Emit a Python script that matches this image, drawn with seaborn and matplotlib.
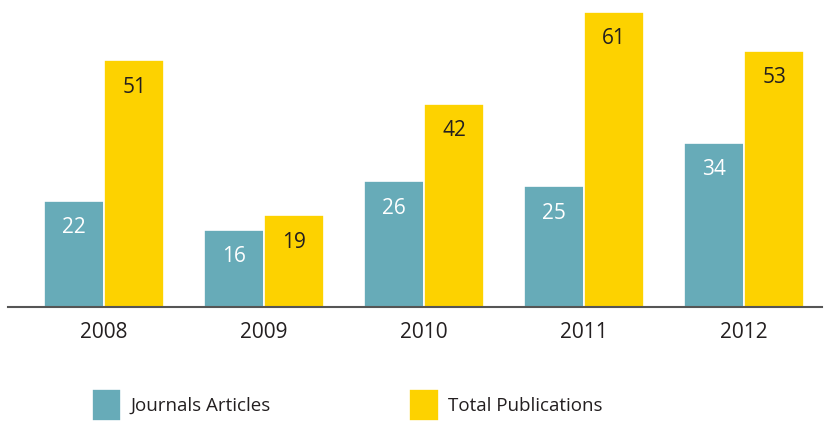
import matplotlib
matplotlib.use("Agg")
import matplotlib.pyplot as plt
import seaborn as sns
import pandas as pd

years = ["2008", "2009", "2010", "2011", "2012"]
journal_articles = [22, 16, 26, 25, 34]
total_publications = [51, 19, 42, 61, 53]
series_names = ["Journals Articles", "Total Publications"]
colors = ["#67abb8", "#fdd200"]

df = pd.DataFrame({
    "year": years * 2,
    "value": journal_articles + total_publications,
    "series": [series_names[0]] * len(years) + [series_names[1]] * len(years),
})

sns.set_theme(style="white")
plt.rcParams["font.family"] = ["Open Sans", "DejaVu Sans"]

fig = plt.figure(figsize=(8.24, 4.21), dpi=100)
ax = fig.add_axes([8 / 824, (421 - 307) / 421, (822 - 8) / 824, (307 - 12) / 421])

sns.barplot(data=df, x="year", y="value", hue="series", palette=colors,
            width=0.755, ax=ax, edgecolor="white", linewidth=1.2,
            saturation=1, legend=True)

ax.set_xlim(-0.6, 4.4875)
ax.set_ylim(0, 61)
for s in ["top", "right", "left"]:
    ax.spines[s].set_visible(False)
ax.spines["bottom"].set_color("#555555")
ax.spines["bottom"].set_linewidth(1.5)
ax.set_yticks([])
ax.set_xlabel("")
ax.set_ylabel("")
ax.tick_params(axis="x", length=0, pad=11, labelsize=15, labelcolor="#231f20")

text_colors = ["white", "#231f20"]
for container, tc in zip(ax.containers, text_colors):
    for bar in container:
        h = bar.get_height()
        ax.annotate(f"{int(h)}", (bar.get_x() + bar.get_width() / 2, h),
                    xytext=(0, -27), textcoords="offset pixels",
                    ha="center", va="center", fontsize=15, color=tc)

handles, labels = ax.get_legend_handles_labels()
ax.get_legend().remove()
fig.legend(handles, labels, loc="center left", bbox_to_anchor=(92 / 824, 16 / 421),
           ncol=2, frameon=False, fontsize=13.5, handlelength=1.55, handleheight=2.3,
           handletextpad=0.5, columnspacing=7.4, labelcolor="#231f20",
           borderpad=0, borderaxespad=0)

fig.savefig("out.png", dpi=100)
